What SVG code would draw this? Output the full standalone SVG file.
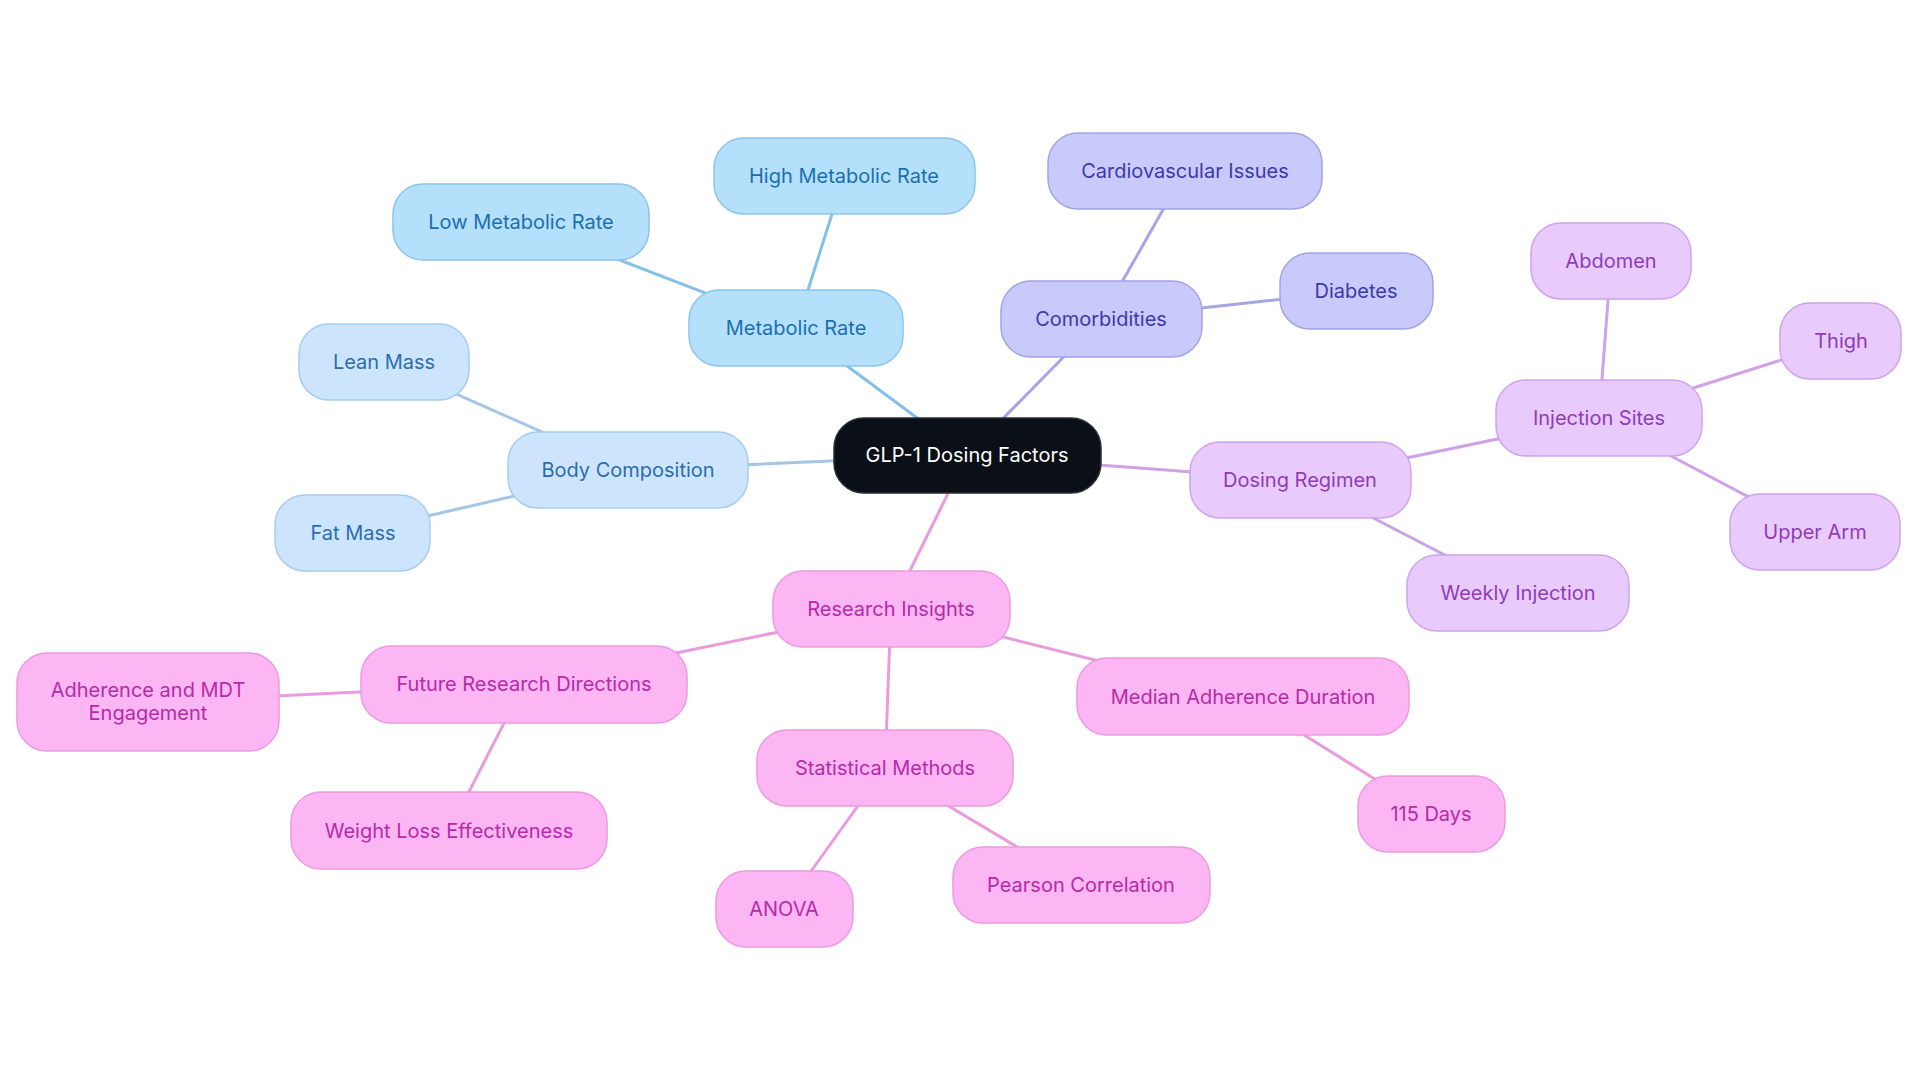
<svg xmlns="http://www.w3.org/2000/svg" width="1920" height="1083" viewBox="0 0 1920 1083">
<style>
text{font-family:Inter,"Noto Sans","Liberation Sans",sans-serif;font-size:20px;text-anchor:middle;dominant-baseline:central}
.e{stroke-width:3;fill:none;stroke-linecap:round}
.eb{stroke:#84c1e8}.el{stroke:#a3c6e6}.ev{stroke:#a6a5e3}.ep{stroke:#cfa2e7}.ek{stroke:#eb9ade}
.n rect{stroke-width:1.5}
.b rect{fill:#b4e0fc;stroke:#8cc4ea}.b text{fill:#1c6faf}
.l rect{fill:#cde5fc;stroke:#a8cbee}.l text{fill:#2b6cb0}
.v rect{fill:#c9cafc;stroke:#a3a3e6}.v text{fill:#3d3aa8}
.p rect{fill:#e9cafc;stroke:#cea4ea}.p text{fill:#8e3cb8}
.k rect{fill:#fcb6f3;stroke:#eb9be0}.k text{fill:#b52ba8}
.c rect{fill:#0b0f17;stroke:#2a2e36}.c text{fill:#ffffff}
</style>
<rect width="1920" height="1083" fill="#ffffff"/>
<g id="connectors">
<line class="e eb" x1="967" y1="455" x2="796" y2="328"/>
<line class="e eb" x1="796" y1="328" x2="844" y2="176"/>
<line class="e eb" x1="796" y1="328" x2="521" y2="222"/>
<line class="e el" x1="967" y1="455" x2="628" y2="470"/>
<line class="e el" x1="628" y1="470" x2="384" y2="362"/>
<line class="e el" x1="628" y1="470" x2="353" y2="533"/>
<line class="e ev" x1="967" y1="455" x2="1101" y2="319"/>
<line class="e ev" x1="1101" y1="319" x2="1185" y2="171"/>
<line class="e ev" x1="1101" y1="319" x2="1356" y2="291"/>
<line class="e ep" x1="967" y1="455" x2="1300" y2="480"/>
<line class="e ep" x1="1300" y1="480" x2="1599" y2="418"/>
<line class="e ep" x1="1300" y1="480" x2="1518" y2="593"/>
<line class="e ep" x1="1599" y1="418" x2="1611" y2="261"/>
<line class="e ep" x1="1599" y1="418" x2="1841" y2="341"/>
<line class="e ep" x1="1599" y1="418" x2="1815" y2="532"/>
<line class="e ek" x1="967" y1="455" x2="891" y2="609"/>
<line class="e ek" x1="891" y1="609" x2="524" y2="684"/>
<line class="e ek" x1="524" y1="684" x2="148" y2="702"/>
<line class="e ek" x1="524" y1="684" x2="449" y2="831"/>
<line class="e ek" x1="891" y1="609" x2="885" y2="768"/>
<line class="e ek" x1="885" y1="768" x2="784" y2="909"/>
<line class="e ek" x1="885" y1="768" x2="1081" y2="885"/>
<line class="e ek" x1="891" y1="609" x2="1243" y2="697"/>
<line class="e ek" x1="1243" y1="697" x2="1431" y2="814"/>
</g>
<g id="node-center" class="n c"><rect x="834" y="418" width="267" height="75" rx="30"/><text x="967" y="455">GLP-1 Dosing Factors</text></g>
<g id="node-metabolic" class="n b"><rect x="689" y="290" width="214" height="76" rx="30"/><text x="796" y="328">Metabolic Rate</text></g>
<g id="node-high" class="n b"><rect x="714" y="138" width="261" height="76" rx="30"/><text x="844" y="176">High Metabolic Rate</text></g>
<g id="node-low" class="n b"><rect x="393" y="184" width="256" height="76" rx="30"/><text x="521" y="222">Low Metabolic Rate</text></g>
<g id="node-body" class="n l"><rect x="508" y="432" width="240" height="76" rx="30"/><text x="628" y="470">Body Composition</text></g>
<g id="node-lean" class="n l"><rect x="299" y="324" width="170" height="76" rx="30"/><text x="384" y="362">Lean Mass</text></g>
<g id="node-fat" class="n l"><rect x="275" y="495" width="155" height="76" rx="30"/><text x="353" y="533">Fat Mass</text></g>
<g id="node-comorb" class="n v"><rect x="1001" y="281" width="201" height="76" rx="30"/><text x="1101" y="319">Comorbidities</text></g>
<g id="node-cardio" class="n v"><rect x="1048" y="133" width="274" height="76" rx="30"/><text x="1185" y="171">Cardiovascular Issues</text></g>
<g id="node-diabetes" class="n v"><rect x="1280" y="253" width="153" height="76" rx="30"/><text x="1356" y="291">Diabetes</text></g>
<g id="node-dosing" class="n p"><rect x="1190" y="442" width="221" height="76" rx="30"/><text x="1300" y="480">Dosing Regimen</text></g>
<g id="node-injection" class="n p"><rect x="1496" y="380" width="206" height="76" rx="30"/><text x="1599" y="418">Injection Sites</text></g>
<g id="node-abdomen" class="n p"><rect x="1531" y="223" width="160" height="76" rx="30"/><text x="1611" y="261">Abdomen</text></g>
<g id="node-thigh" class="n p"><rect x="1780" y="303" width="121" height="76" rx="30"/><text x="1841" y="341">Thigh</text></g>
<g id="node-upperarm" class="n p"><rect x="1730" y="494" width="170" height="76" rx="30"/><text x="1815" y="532">Upper Arm</text></g>
<g id="node-weekly" class="n p"><rect x="1407" y="555" width="222" height="76" rx="30"/><text x="1518" y="593">Weekly Injection</text></g>
<g id="node-research" class="n k"><rect x="773" y="571" width="237" height="76" rx="30"/><text x="891" y="609">Research Insights</text></g>
<g id="node-future" class="n k"><rect x="361" y="646" width="326" height="77" rx="30"/><text x="524" y="684">Future Research Directions</text></g>
<g id="node-adherence" class="n k"><rect x="17" y="653" width="262" height="98" rx="30"/><text x="148" y="690">Adherence and MDT</text><text x="148" y="713">Engagement</text></g>
<g id="node-weightloss" class="n k"><rect x="291" y="792" width="316" height="77" rx="30"/><text x="449" y="831">Weight Loss Effectiveness</text></g>
<g id="node-stat" class="n k"><rect x="757" y="730" width="256" height="76" rx="30"/><text x="885" y="768">Statistical Methods</text></g>
<g id="node-anova" class="n k"><rect x="716" y="871" width="137" height="76" rx="30"/><text x="784" y="909">ANOVA</text></g>
<g id="node-pearson" class="n k"><rect x="953" y="847" width="257" height="76" rx="30"/><text x="1081" y="885">Pearson Correlation</text></g>
<g id="node-median" class="n k"><rect x="1077" y="658" width="332" height="77" rx="30"/><text x="1243" y="697">Median Adherence Duration</text></g>
<g id="node-115" class="n k"><rect x="1358" y="776" width="147" height="76" rx="30"/><text x="1431" y="814">115 Days</text></g>
</svg>
